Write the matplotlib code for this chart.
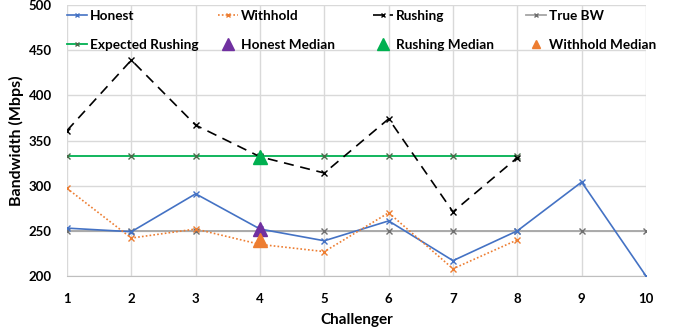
import matplotlib
matplotlib.use("Agg")
import matplotlib.pyplot as plt

challenger = [1, 2, 3, 4, 5, 6, 7, 8, 9, 10]
honest = [253, 249, 291, 252, 239, 261, 217, 250, 304, 200]
withhold = [297, 242, 252, 235, 227, 270, 208, 240]
rushing = [361, 439, 367, 332, 314, 374, 271, 331]
expected_rushing = [333, 333, 333, 333, 333, 333, 333, 333]
true_bw = [250] * 10
median_x = 4
honest_median = 252
rushing_median = 332
withhold_median = 240

plt.rcParams['font.family'] = ['Lato', 'DejaVu Sans']
plt.rcParams['font.weight'] = 'bold'

W, H = 686, 328
fig = plt.figure(figsize=(W / 100, H / 100), dpi=100)
ax = fig.add_axes([67 / W, 1 - 276 / H, (646 - 67) / W, 271 / H])

h_true, = ax.plot(challenger, true_bw, color="#a5a5a5", lw=1.3, marker="x", ms=4, mec="#6f6f6f", label="True BW", zorder=2)
h_exp, = ax.plot(challenger[:8], expected_rushing, color="#00b050", lw=1.3, marker="x", ms=4, mec="#4a6a4a", label="Expected Rushing", zorder=3)
h_hon, = ax.plot(challenger, honest, color="#4472c4", lw=1.2, marker="x", ms=4, label="Honest", zorder=4)
h_wit, = ax.plot(challenger[:8], withhold, color="#ed7d31", lw=1.2, ls=(0, (1, 1.3)), marker="x", ms=4, label="Withhold", zorder=4)
h_rus, = ax.plot(challenger[:8], rushing, color="black", lw=1.2, ls=(0, (6, 4)), marker="x", ms=4, label="Rushing", zorder=4)

h_hm, = ax.plot([median_x], [honest_median], ls="none", marker="^", ms=10, color="#7030a0", label="Honest Median", zorder=6)
h_wm, = ax.plot([median_x], [withhold_median], ls="none", marker="^", ms=10, color="#ed7d31", label="Withhold Median", zorder=6)
h_rm, = ax.plot([median_x], [rushing_median], ls="none", marker="^", ms=10, color="#00b050", label="Rushing Median", zorder=6)

ax.set_xlim(1, 10)
ax.set_ylim(200, 500)
ax.set_xticks(challenger)
ax.set_yticks(range(200, 501, 50))
ax.grid(True, color="#d9d9d9", lw=1)
ax.set_axisbelow(True)
for s in ["top", "right", "left"]:
    ax.spines[s].set_visible(False)
ax.spines["bottom"].set_color("#bfbfbf")
ax.tick_params(length=0, labelsize=9.5)
ax.tick_params(axis="x", pad=12)
ax.tick_params(axis="y", pad=11)
ax.set_xlabel("Challenger", fontsize=11, fontweight="bold", labelpad=6)
ax.set_ylabel("Bandwidth (Mbps)", fontsize=11.5, fontweight="bold", labelpad=3)

# legend entries placed one by one: (handle, left x px, center y px, legend marker size)
entries = [
    (h_hon, 67, 16, None), (h_wit, 218, 16, None), (h_rus, 373, 16, None), (h_true, 526, 16, None),
    (h_exp, 67, 45, None), (h_hm, 218, 45, 9), (h_rm, 373, 45, 8), (h_wm, 526, 45, 5.5),
]
for h, x, y, ms in entries:
    leg = fig.legend(handles=[h], loc="center left", bbox_to_anchor=(x / W, 1 - y / H),
                     frameon=False, fontsize=9.8, handlelength=1.45, handletextpad=0.22,
                     borderpad=0, borderaxespad=0)
    lh = leg.legend_handles[0]
    lh.set_markersize(ms if ms else 3.5)
    for t in leg.get_texts():
        t.set_fontweight("bold")

fig.savefig("out.png", dpi=100)
